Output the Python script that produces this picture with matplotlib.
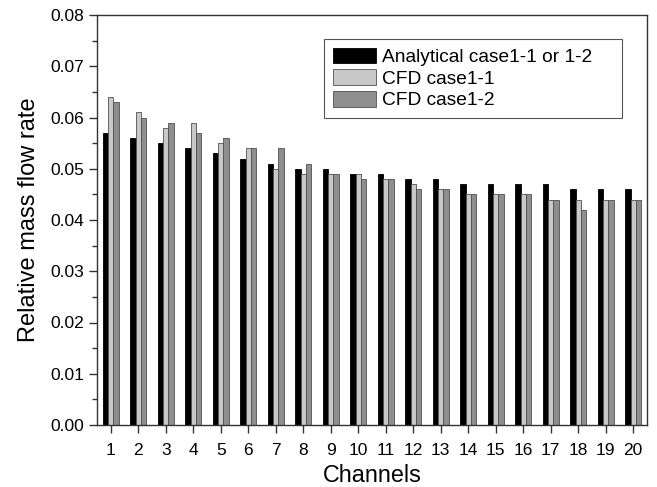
import matplotlib
matplotlib.use("Agg")
import matplotlib.pyplot as plt
import numpy as np
from matplotlib.ticker import MultipleLocator

plt.rcParams['font.family'] = ['Liberation Sans', 'DejaVu Sans']

canais = list(range(1, 21))

analitico = [0.057, 0.056, 0.055, 0.054, 0.053, 0.052, 0.051, 0.050, 0.050, 0.049,
             0.049, 0.048, 0.048, 0.047, 0.047, 0.047, 0.047, 0.046, 0.046, 0.046]
cfd_1_1 = [0.064, 0.061, 0.058, 0.059, 0.055, 0.054, 0.050, 0.049, 0.049, 0.049,
           0.048, 0.047, 0.046, 0.045, 0.045, 0.045, 0.044, 0.044, 0.044, 0.044]
cfd_1_2 = [0.063, 0.060, 0.059, 0.057, 0.056, 0.054, 0.054, 0.051, 0.049, 0.048,
           0.048, 0.046, 0.046, 0.045, 0.045, 0.045, 0.044, 0.042, 0.044, 0.044]

fig = plt.figure(figsize=(6.57, 4.87), dpi=100)
ax = fig.add_axes([97/657, 1 - 425/487, 550/657, 410/487])

x = np.array(canais)
w = 0.19
ax.bar(x - w, analitico, w, color='black', edgecolor='black', linewidth=0.6,
       label='Analytical case1-1 or 1-2')
ax.bar(x, cfd_1_1, w, color='#c8c8c8', edgecolor='#505050', linewidth=0.6,
       label='CFD case1-1')
ax.bar(x + w, cfd_1_2, w, color='#8e8e8e', edgecolor='#505050', linewidth=0.6,
       label='CFD case1-2')

ax.set_xlim(0.5, 20.5)
ax.set_ylim(0, 0.08)
ax.set_xticks(canais)
ax.yaxis.set_major_locator(MultipleLocator(0.01))
ax.yaxis.set_minor_locator(MultipleLocator(0.005))
ax.yaxis.set_major_formatter(plt.FormatStrFormatter('%.2f'))
ax.tick_params(axis='both', which='major', direction='out', length=6, width=1,
               labelsize=12.5, color='#333333')
ax.tick_params(axis='x', which='major', pad=7)
ax.tick_params(axis='y', which='minor', direction='out', length=3.5, width=1,
               color='#333333')
for s in ax.spines.values():
    s.set_color('#333333')
    s.set_linewidth(1)

ax.set_xlabel('Channels', fontsize=16.8, labelpad=4)
ax.set_ylabel('Relative mass flow rate', fontsize=17, labelpad=7)

# caixa da legenda mais larga que o texto, como no original
leg = ax.legend(loc='upper left', bbox_to_anchor=(0.4127, 0.5, 0.5418, 0.4415),
                mode='expand', borderaxespad=0,
                fontsize=13.8, fancybox=False, edgecolor='#555555', framealpha=1,
                handlelength=2.25, handleheight=0.88, labelspacing=0.17,
                handletextpad=0.35, borderpad=0.45)
leg.get_frame().set_linewidth(0.8)

fig.savefig('out.png', dpi=100)
